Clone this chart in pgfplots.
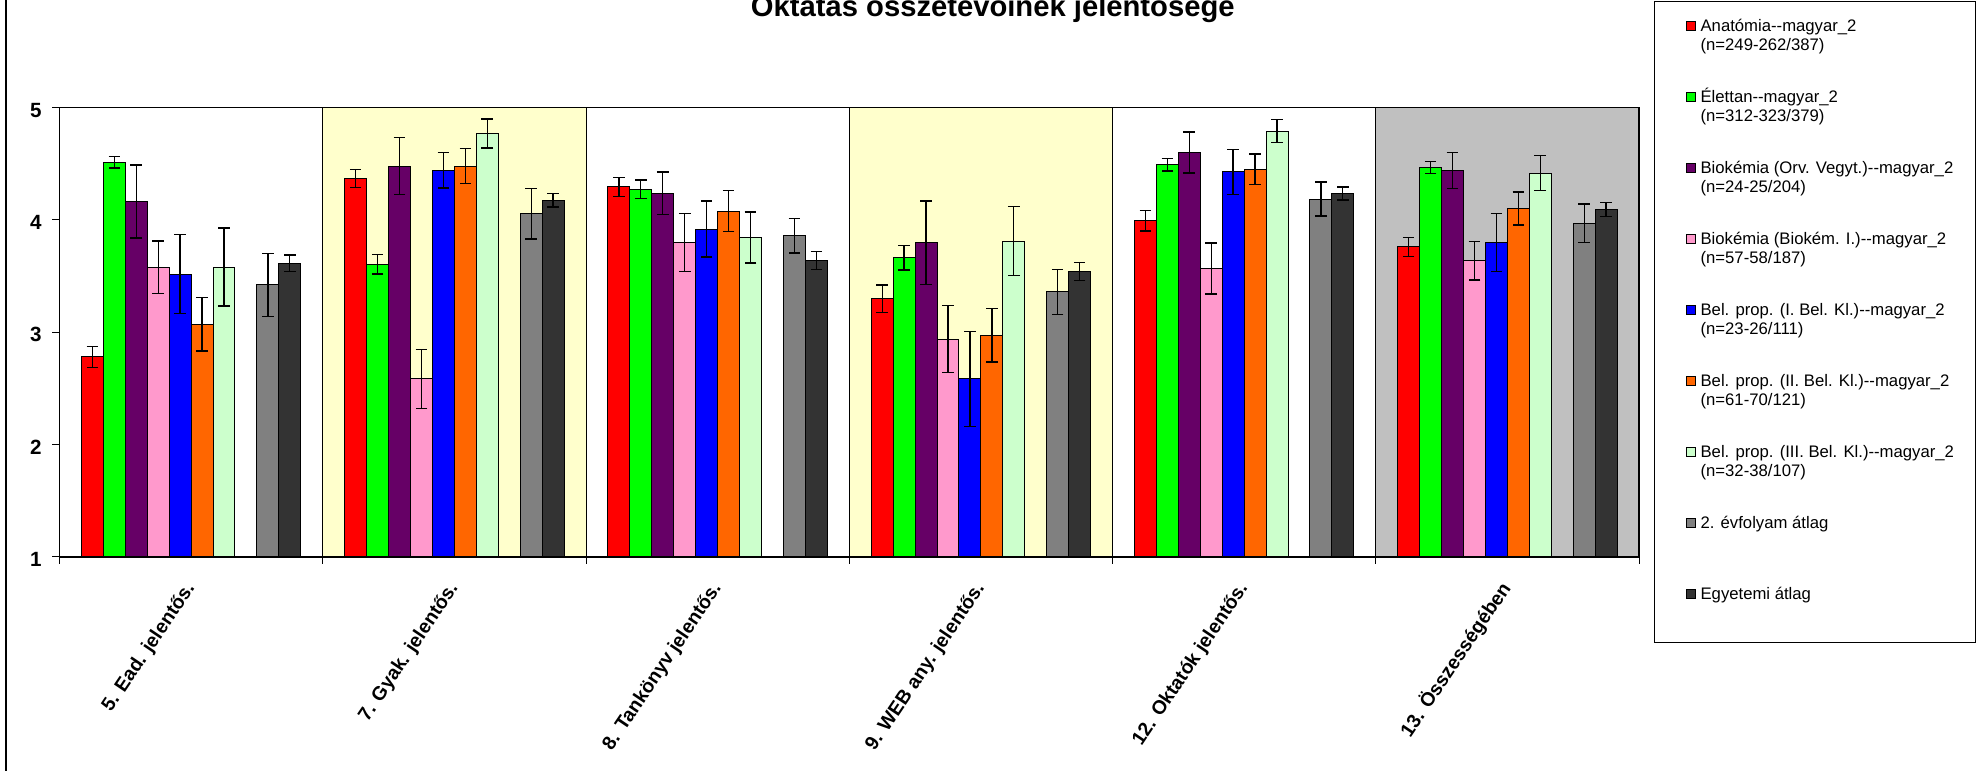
\documentclass[border=0pt]{standalone}
\usepackage{fontspec}
\setmainfont{Liberation Sans}
\usepackage{pgfplots}
\pgfplotsset{compat=1.18}

\definecolor{cRed}{HTML}{FF0000}
\definecolor{cGreen}{HTML}{00FF00}
\definecolor{cPurple}{HTML}{660066}
\definecolor{cPink}{HTML}{FF99CC}
\definecolor{cBlue}{HTML}{0000FF}
\definecolor{cOrange}{HTML}{FF6600}
\definecolor{cLight}{HTML}{CCFFCC}
\definecolor{cGray}{HTML}{808080}
\definecolor{cDark}{HTML}{333333}
\definecolor{bgYellow}{HTML}{FFFFCC}
\definecolor{bgGray}{HTML}{C0C0C0}

\newcommand\twoline[2]{\vtop{\hbox{\strut #1}\hbox{\strut #2}}}
\newcommand\oneline[1]{\hbox{\strut #1}}

\pgfplotsset{
  mybar/.style={ybar, bar width=0.08333, bar shift=0pt, draw=black, line width=0.5pt, fill=#1},
  myerr/.style={error bars/.cd, y dir=both, y explicit,
    error bar style={black, line width=0.65pt},
    error mark options={rotate=90, black, mark size=2.9pt, line width=0.65pt}},
}

\begin{document}
\begin{tikzpicture}
\useasboundingbox (0,0) rectangle (988.5pt,385.5pt);
\draw[line width=0.7pt] (3pt,0) -- (3pt,385.5pt);
\node[anchor=base, font=\bfseries\fontsize{14.6}{17}\selectfont, inner sep=0pt] at (496.4pt,377.15pt) {Oktatás összetevőinek jelentősége};
\draw[line width=0.5pt] (827pt,64pt) rectangle (987.5pt,384.6pt);
\begin{axis}[
  at={(29.75pt,107pt)}, anchor=south west,
  scale only axis, width=789.75pt, height=224.75pt,
  xmin=0, xmax=6, ymin=1, ymax=5,
  ytick={1,2,3,4,5},
  xtick={0,1,2,3,4,5,6},
  xticklabels={},
  extra x ticks={0.5,1.5,2.5,3.5,4.5,5.5},
  extra x tick labels={5. Ead. jelentős., 7. Gyak. jelentős., 8. Tankönyv jelentős., 9. WEB any. jelentős., 12. Oktatók jelentős., 13. Összességében},
  extra x tick style={major tick length=0pt},
  tick align=outside, tick pos=left,
  major tick length=3.5pt,
  tick style={black, line width=0.5pt},
  axis line style={black, line width=0.9pt},
  axis on top,
  /pgf/number format/assume math mode=true,
  yticklabel style={font=\bfseries\fontsize{10.3}{12}\selectfont, inner sep=0pt, anchor=east, xshift=-5.2pt, yshift=-1.3pt},
  xticklabel style={font=\bfseries\fontsize{9.7}{12}\selectfont, inner sep=0pt, xshift=2.15pt, yshift=-15.5pt, rotate=56, anchor=base east},
  legend image code/.code={\draw[#1, draw=black, line width=0.4pt] (0pt,0.5pt) rectangle (4.5pt,5pt);},
  legend style={at={(1.02950,1.19533)}, anchor=north west, draw=none, fill=none,
    inner sep=0pt, outer sep=0pt, row sep=0pt, column sep=2.6pt,
    font=\fontsize{8.35}{9.3}\selectfont,
    cells={anchor=base west},
    nodes={inner sep=0pt, outer sep=0pt, text height=6pt, text depth=29.5pt}},
]
% background panels
\addplot[ybar, bar width=1, bar shift=0pt, fill=white, draw=black, line width=0.5pt, forget plot] coordinates {(0.5,5) (2.5,5) (4.5,5)};
\addplot[ybar, bar width=1, bar shift=0pt, fill=bgYellow, draw=black, line width=0.5pt, forget plot] coordinates {(1.5,5) (3.5,5)};
\addplot[ybar, bar width=1, bar shift=0pt, fill=bgGray, draw=black, line width=0.5pt, forget plot] coordinates {(5.5,5)};

\addplot[mybar=cRed, myerr] coordinates {
 (0.125,2.78) +- (0,0.096) (1.125,4.368) +- (0,0.079) (2.125,4.294) +- (0,0.086)
 (3.125,3.298) +- (0,0.123) (4.125,3.992) +- (0,0.092) (5.125,3.761) +- (0,0.085)};
\addlegendentry{\twoline{Anatómia-{}-magyar\_2}{(n=249-262/387)}}
\addplot[mybar=cGreen, myerr] coordinates {
 (0.2083,4.514) +- (0,0.053) (1.2083,3.604) +- (0,0.085) (2.2083,4.274) +- (0,0.082)
 (3.2083,3.663) +- (0,0.110) (4.2083,4.490) +- (0,0.055) (5.2083,4.466) +- (0,0.055)};
\addlegendentry{\twoline{Élettan-{}-magyar\_2}{(n=312-323/379)}}
\addplot[mybar=cPurple, myerr] coordinates {
 (0.2917,4.164) +- (0,0.325) (1.2917,4.478) +- (0,0.255) (2.2917,4.238) +- (0,0.188)
 (3.2917,3.796) +- (0,0.371) (4.2917,4.600) +- (0,0.182) (5.2917,4.440) +- (0,0.160)};
\addlegendentry{\twoline{Biokémia (Orv. Vegyt.)-{}-magyar\_2}{(n=24-25/204)}}
\addplot[mybar=cPink, myerr] coordinates {
 (0.375,3.580) +- (0,0.233) (1.375,2.584) +- (0,0.260) (2.375,3.796) +- (0,0.258)
 (3.375,2.937) +- (0,0.298) (4.375,3.568) +- (0,0.227) (5.375,3.636) +- (0,0.172)};
\addlegendentry{\twoline{Biokémia (Biokém. I.)-{}-magyar\_2}{(n=57-58/187)}}
\addplot[mybar=cBlue, myerr] coordinates {
 (0.4583,3.518) +- (0,0.353) (1.4583,4.443) +- (0,0.159) (2.4583,3.918) +- (0,0.249)
 (3.4583,2.584) +- (0,0.420) (4.4583,4.428) +- (0,0.200) (5.4583,3.796) +- (0,0.258)};
\addlegendentry{\twoline{Bel. prop. (I. Bel. Kl.)-{}-magyar\_2}{(n=23-26/111)}}
\addplot[mybar=cOrange, myerr] coordinates {
 (0.5417,3.070) +- (0,0.237) (1.5417,4.478) +- (0,0.157) (2.5417,4.078) +- (0,0.184)
 (3.5417,2.972) +- (0,0.237) (4.5417,4.452) +- (0,0.135) (5.5417,4.102) +- (0,0.147)};
\addlegendentry{\twoline{Bel. prop. (II. Bel. Kl.)-{}-magyar\_2}{(n=61-70/121)}}
\addplot[mybar=cLight, myerr] coordinates {
 (0.625,3.580) +- (0,0.347) (1.625,4.769) +- (0,0.129) (2.625,3.844) +- (0,0.227)
 (3.625,3.811) +- (0,0.305) (4.625,4.790) +- (0,0.104) (5.625,4.416) +- (0,0.154)};
\addlegendentry{\twoline{Bel. prop. (III. Bel. Kl.)-{}-magyar\_2}{(n=32-38/107)}}
\addplot[mybar=cGray, myerr] coordinates {
 (0.7917,3.423) +- (0,0.280) (1.7917,4.054) +- (0,0.224) (2.7917,3.859) +- (0,0.153)
 (3.7917,3.361) +- (0,0.200) (4.7917,4.185) +- (0,0.151) (5.7917,3.968) +- (0,0.172)};
\addlegendentry{\oneline{2. évfolyam átlag}}
\addplot[mybar=cDark, myerr] coordinates {
 (0.875,3.615) +- (0,0.073) (1.875,4.176) +- (0,0.061) (2.875,3.639) +- (0,0.080)
 (3.875,3.541) +- (0,0.080) (4.875,4.235) +- (0,0.058) (5.875,4.090) +- (0,0.062)};
\addlegendentry{\oneline{Egyetemi átlag}}
\end{axis}
\end{tikzpicture}
\end{document}
